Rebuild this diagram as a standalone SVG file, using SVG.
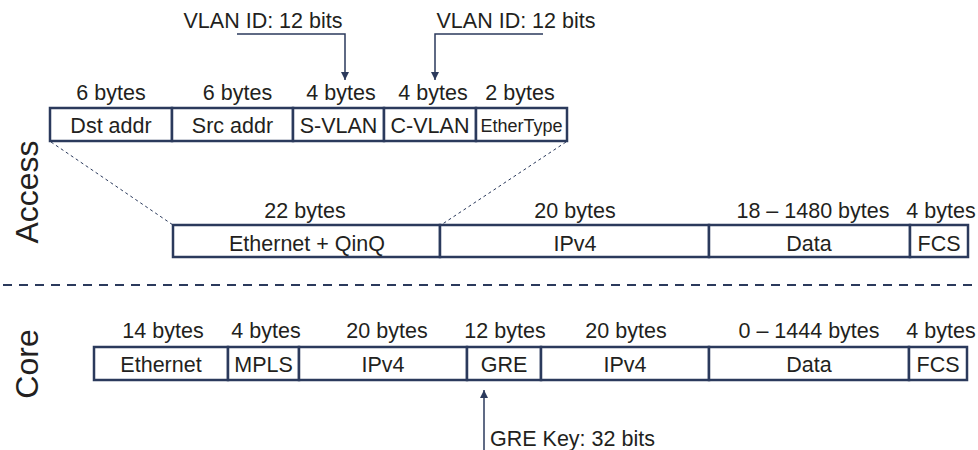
<svg xmlns="http://www.w3.org/2000/svg" width="978" height="450" viewBox="0 0 978 450">
<defs>
<style>
text{font-family:"Liberation Sans",Arial,sans-serif;fill:#231f20;font-size:21.5px;text-anchor:middle}
.box{fill:#fff;stroke:#2b3a5c;stroke-width:2.5}
.lead{fill:none;stroke:#2b3a5c;stroke-width:1.5}
.proj{fill:none;stroke:#2b3a5c;stroke-width:1;stroke-dasharray:3 3}
.sep{fill:none;stroke:#2b3a5c;stroke-width:2;stroke-dasharray:9 7}
.side{font-size:32px}
.small{font-size:18px}
.start{text-anchor:start}
</style>
<marker id="ah" viewBox="0 0 10 10" refX="10" refY="5" markerWidth="8" markerHeight="8" markerUnits="userSpaceOnUse" orient="auto">
<path d="M0,0 L10,5 L0,10 z" fill="#2b3a5c"/>
</marker>
</defs>
<rect width="978" height="450" fill="#fff"/>

<text class="side" transform="translate(38,192) rotate(-90)">Access</text>
<text class="side" transform="translate(38,364) rotate(-90)">Core</text>

<g id="connectors">
<line class="sep" x1="3" y1="285" x2="978" y2="285"/>
<line class="proj" x1="51" y1="142" x2="173" y2="225"/>
<line class="proj" x1="566" y1="142" x2="441" y2="225"/>
<polyline class="lead" points="237,34 345,34 345,80" marker-end="url(#ah)"/>
<polyline class="lead" points="543,34 435,34 435,80" marker-end="url(#ah)"/>
<line class="lead" x1="484" y1="450" x2="484" y2="390" marker-end="url(#ah)"/>
</g>

<g id="vlan-labels">
<text x="263" y="28">VLAN ID: 12 bits</text>
<text x="516" y="28">VLAN ID: 12 bits</text>
<text class="start" x="490" y="446">GRE Key: 32 bits</text>
</g>

<g id="qinq-header">
<rect class="box" x="50" y="108" width="122" height="33"/>
<rect class="box" x="172" y="108" width="121" height="33"/>
<rect class="box" x="293" y="108" width="91" height="33"/>
<rect class="box" x="384" y="108" width="92" height="33"/>
<rect class="box" x="476" y="108" width="91" height="33"/>
<text x="111" y="133">Dst addr</text>
<text x="232.5" y="133">Src addr</text>
<text x="338.5" y="133">S-VLAN</text>
<text x="430" y="133">C-VLAN</text>
<text class="small" x="521.5" y="132">EtherType</text>
<text x="111" y="100">6 bytes</text>
<text x="237.5" y="100">6 bytes</text>
<text x="341" y="100">4 bytes</text>
<text x="433" y="100">4 bytes</text>
<text x="520" y="100">2 bytes</text>
</g>

<g id="access-frame">
<rect class="box" x="173" y="225" width="267" height="32"/>
<rect class="box" x="440" y="225" width="269" height="32"/>
<rect class="box" x="709" y="225" width="201" height="32"/>
<rect class="box" x="910" y="225" width="58" height="32"/>
<text x="307" y="251">Ethernet + QinQ</text>
<text x="575" y="251">IPv4</text>
<text x="809" y="251">Data</text>
<text x="939" y="251">FCS</text>
<text x="305" y="218">22 bytes</text>
<text x="575" y="218">20 bytes</text>
<text x="813" y="218">18 – 1480 bytes</text>
<text x="941" y="218">4 bytes</text>
</g>

<g id="core-frame">
<rect class="box" x="94" y="347" width="134" height="33"/>
<rect class="box" x="228" y="347" width="71" height="33"/>
<rect class="box" x="299" y="347" width="168" height="33"/>
<rect class="box" x="467" y="347" width="74" height="33"/>
<rect class="box" x="541" y="347" width="168" height="33"/>
<rect class="box" x="709" y="347" width="200" height="33"/>
<rect class="box" x="909" y="347" width="58" height="33"/>
<text x="161" y="372">Ethernet</text>
<text x="263.5" y="372">MPLS</text>
<text x="383" y="372">IPv4</text>
<text x="504" y="372">GRE</text>
<text x="625" y="372">IPv4</text>
<text x="809" y="372">Data</text>
<text x="938" y="372">FCS</text>
<text x="163" y="338">14 bytes</text>
<text x="266" y="338">4 bytes</text>
<text x="387" y="338">20 bytes</text>
<text x="505" y="338">12 bytes</text>
<text x="626" y="338">20 bytes</text>
<text x="809" y="338">0 – 1444 bytes</text>
<text x="941" y="338">4 bytes</text>
</g>
</svg>
